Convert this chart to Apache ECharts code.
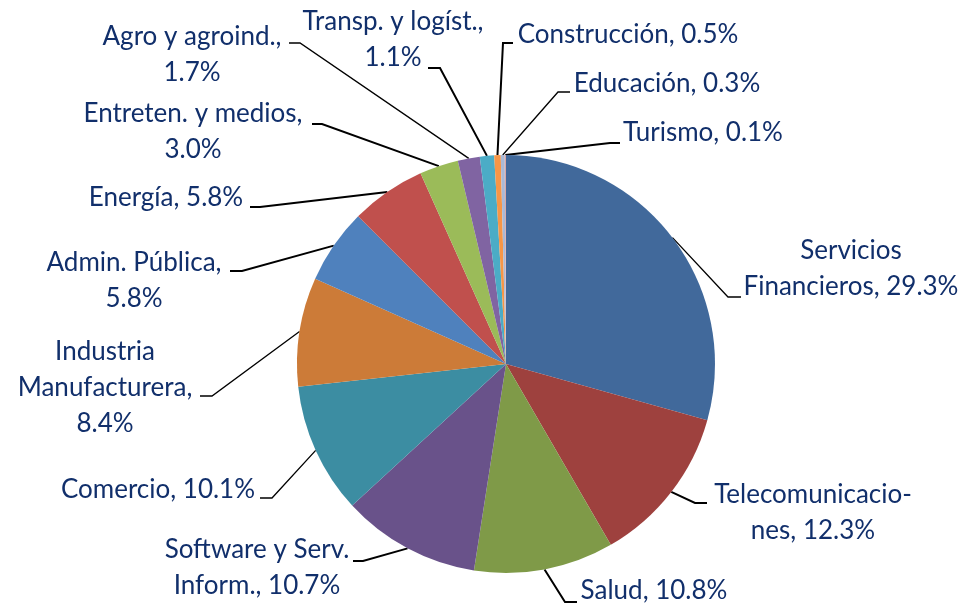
<!DOCTYPE html>
<html>
<head>
<meta charset="utf-8">
<script src="https://cdn.jsdelivr.net/npm/echarts@6/dist/echarts.min.js"></script>
<style>
  html, body { margin: 0; padding: 0; background: #fff; }
  #main { width: 964px; height: 604px; }
</style>
</head>
<body>
<div id="main"></div>
<script>
// sectores y participación (%)
const categories = ['Servicios Financieros', 'Telecomunicaciones', 'Salud', 'Software y Serv. Inform.',
  'Comercio', 'Industria Manufacturera', 'Admin. Pública', 'Energía', 'Entreten. y medios',
  'Agro y agroind.', 'Transp. y logíst.', 'Construcción', 'Educación', 'Turismo'];
const shares = [29.3, 12.3, 10.8, 10.7, 10.1, 8.4, 5.8, 5.8, 3.0, 1.7, 1.1, 0.5, 0.3, 0.1];
// texto de etiqueta tal como aparece (con saltos de línea)
const labelNames = ['Servicios\nFinancieros', 'Telecomunicacio-\nnes', 'Salud', 'Software y Serv.\nInform.',
  'Comercio', 'Industria\nManufacturera', 'Admin. Pública', 'Energía', 'Entreten. y medios',
  'Agro y agroind.', 'Transp. y logíst.', 'Construcción', 'Educación', 'Turismo'];
const breakAfterComma = [false, false, false, false, false, true, true, false, true, true, true, false, false, false];

const colors = ['#41699b', '#9e413e', '#7f9a48', '#69528a', '#3c8da2', '#cc7b38', '#4f81bd',
  '#c0504d', '#9bbb59', '#8064a2', '#4bacc6', '#f79646', '#aab9d6', '#d9a9a8'];

// posición de etiquetas: centro del texto, codo y final de la línea guía
const labelCenter = [[851, 269], [813, 513], [654, 591], [257, 568], [158, 490], [105, 388], [134, 281],
  [166, 198], [193, 132], [192, 55], [393, 40], [628, 35], [667, 84], [703, 133]];
const lineElbow = [[728, 297], [695, 503], [565, 602], [363, 561], [272, 498], [212, 396], [242, 271],
  [260, 207], [322, 124], [300, 43], [440, 68], [503, 43], [558, 92], [610, 143]];
const lineEnd = [[741, 297], [707, 503], [577, 602], [353, 561], [260, 498], [200, 396], [230, 271],
  [250, 207], [312, 124], [289, 43], [428, 68], [513, 43], [570, 92], [620, 143]];
const lineWidths = [1.3, 2, 2, 2, 1.3, 1.3, 2, 2, 2, 1.3, 2, 2, 1.3, 2];

const chart = echarts.init(document.getElementById('main'));

const option = {
  animation: false,
  series: [{
    type: 'pie',
    center: [506, 364],
    radius: 209,
    startAngle: 90,
    clockwise: true,
    avoidLabelOverlap: false,
    data: categories.map((c, i) => ({
      name: c,
      value: shares[i],
      itemStyle: { color: colors[i] },
      labelLine: { lineStyle: { width: lineWidths[i] } }
    })),
    itemStyle: { borderWidth: 0 },
    label: {
      show: true,
      position: 'outside',
      color: '#112f6b',
      fontFamily: 'Lato',
      fontSize: 26,
      lineHeight: 36,
      align: 'center',
      formatter: (p) => labelNames[p.dataIndex] + (breakAfterComma[p.dataIndex] ? ',\n' : ', ') +
        p.value.toFixed(1) + '%'
    },
    labelLine: {
      show: true,
      length: 10,
      length2: 10,
      smooth: false,
      lineStyle: { color: '#000', width: 1.5 }
    },
    labelLayout: (params) => {
      const i = params.dataIndex;
      const pts = params.labelLinePoints;
      const start = pts && pts[0] ? pts[0] : lineElbow[i];
      return {
        x: labelCenter[i][0],
        y: labelCenter[i][1],
        align: 'center',
        verticalAlign: 'middle',
        labelLinePoints: [start, lineElbow[i], lineEnd[i]]
      };
    }
  }]
};

chart.setOption(option);
</script>
</body>
</html>
